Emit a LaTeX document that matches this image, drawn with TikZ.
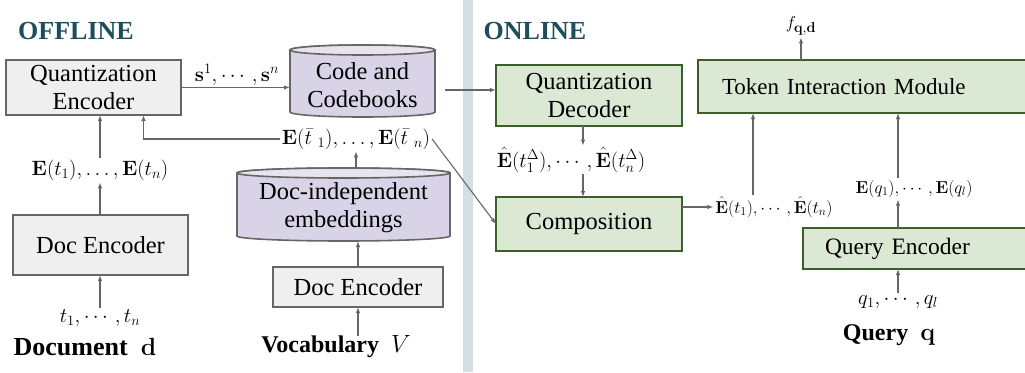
\documentclass[tikz,border=0pt]{standalone}
\usepackage{amsmath}
\usepackage{amssymb}
\usepackage[no-math]{fontspec}
\setmainfont{Liberation Serif}
\usepackage{xcolor}
\usetikzlibrary{
  arrows.meta,
  positioning,
  calc
}

\definecolor{boxgray}{HTML}{EFEFEF}
\definecolor{linegray}{HTML}{666666}
\definecolor{dbpurple}{HTML}{D9D3E8}
\definecolor{dbtop}{HTML}{E7E4EF}
\definecolor{onlgreen}{HTML}{DBE8D4}
\definecolor{onlborder}{HTML}{3C5E2B}
\definecolor{titleteal}{HTML}{1E4D5C}
\definecolor{barblue}{HTML}{D3E0E3}

% database drum drawn round an empty node
\newcommand{\dbcyl}[2]{%
  \draw[line width=1.6pt, draw=linegray, fill=dbpurple]
    let \p1=(#1.south west), \p2=(#1.north east), \n1={(\x2-\x1)/2} in
    (\x1,\y2-#2) -- (\x1,\y1+#2)
    arc[start angle=180, end angle=360, x radius=\n1, y radius=#2]
    -- (\x2,\y2-#2)
    arc[start angle=0, end angle=180, x radius=\n1, y radius=#2] -- cycle;
  \draw[line width=1.6pt, draw=linegray, fill=dbtop]
    let \p1=(#1.south west), \p2=(#1.north east), \n1={(\x2-\x1)/2} in
    (\x1+\n1,\y2-#2) ellipse[x radius=\n1, y radius=#2];
}

\begin{document}
\begin{tikzpicture}[x=1pt, y=-1pt,
    every node/.style = {inner sep=0pt, outer sep=0pt},
    boxtxt/.style = {align=center, font=\rmfamily\fontsize{24.5}{28}\selectfont},
    enc/.style = {boxtxt, draw=linegray, fill=boxgray, line width=1.6pt},
    onl/.style = {boxtxt, draw=onlborder, fill=onlgreen, line width=1.8pt},
    lbl/.style = {inner sep=2pt, font=\fontsize{#1}{#1}\selectfont},
    lbl/.default = 18,
    ttl/.style = {font=\fontsize{26}{30}\selectfont\bfseries, text=titleteal},
    captxt/.style = {font=\fontsize{#1}{28}\selectfont\bfseries},
    captxt/.default = 24,
    arr/.style = {draw=linegray, line width=1.1pt, -{Latex[length=6pt,width=4.5pt]}}]
  \useasboundingbox (0,0) rectangle (1025,372);
  \clip (0,0) rectangle (1025,372);
  \fill[barblue] (463,0) rectangle (473,372);

  \node[ttl] (offline) at (76,31) {OFFLINE};
  \node[ttl] (online) at (535,31) {ONLINE};

  % offline part
  \node[enc, minimum width=175pt, minimum height=55pt] (qenc) at (93.5,87.5) {Quantization\\Encoder};
  \node[minimum width=145pt, minimum height=72pt] (code) at (362.5,81) {};
  \dbcyl{code}{5pt}
  \node[boxtxt] (codetxt) at ([yshift=-4pt]code.center) {Code and\\Codebooks};
  \node[lbl=20.5] (slab) at (237,75) {$\mathbf{s}^1,\cdots,\mathbf{s}^n$};
  \node[lbl=20] (ebar) at (356,139) {$\mathbf{E}(\bar{t}\;{}_1),\ldots,\mathbf{E}(\bar{t}\;{}_n)$};
  \node[lbl=19.5] (elab) at (100,170) {$\mathbf{E}(t_1),\ldots,\mathbf{E}(t_n)$};
  \node[enc, minimum width=175pt, minimum height=60pt] (denc1) at (100.5,245) {Doc Encoder};
  \node[lbl=21] (tlab) at (100,318) {$t_1,\cdots,t_n$};
  \node[captxt=26] (doclab) at (85,347) {Document\ \ $\mathbf{d}$};

  \node[minimum width=213pt, minimum height=73pt] (indep) at (343.5,204.5) {};
  \dbcyl{indep}{5pt}
  \node[boxtxt] (indeptxt) at ([yshift=-3pt]indep.center) {Doc-independent\\embeddings};
  \node[enc, minimum width=170pt, minimum height=40pt] (denc2) at (358,287) {Doc Encoder};
  \node[captxt] (vlab) at (336,347) {Vocabulary\ \ $V$};

  % online part
  \node[onl, minimum width=186pt, minimum height=61pt] (qdec) at (589,95.5) {Quantization\\Decoder};
  \node[lbl=19.5] (dhlab) at (571,160) {$\hat{\mathbf{E}}(t_1^{\Delta}),\cdots,\hat{\mathbf{E}}(t_n^{\Delta})$};
  \node[onl, minimum width=186pt, minimum height=54pt] (comp) at (589,224) {Composition};
  \node[lbl=17.5] (ehlab) at (774,207) {$\hat{\mathbf{E}}(t_1),\cdots,\hat{\mathbf{E}}(t_n)$};
  \node[onl, anchor=west, minimum height=53pt, text width=300pt, align=left, inner xsep=24pt,
    font=\rmfamily\fontsize{23}{28}\selectfont] (tim) at (698,86.5) {Token Interaction Module};
  \node[lbl=19] (flab) at (801,26) {$f_{\mathbf{q},\mathbf{d}}$};
  \node[lbl] (eqlab) at (914,189) {$\mathbf{E}(q_1),\cdots,\mathbf{E}(q_l)$};
  \node[onl, anchor=west, minimum height=41pt, text width=300pt, align=left, inner xsep=22pt,
    font=\rmfamily\fontsize{23.5}{28}\selectfont] (qry) at (803,248.5) {Query Encoder};
  \node[lbl=21] (qlab) at (898,302) {$q_1,\cdots,q_l$};
  \node[captxt] (querylab) at (889,335) {Query\ \ $\mathbf{q}$};

  % connectors
  \draw[arr] (qenc.east) -- (qenc.east -| code.west);
  \draw[arr] ([shift={(10,9)}]code.east) coordinate (cc) -- (cc -| qdec.west);
  \draw[arr] (ebar.west) -| ([xshift=50pt]qenc.south);
  \draw[arr] (ebar.east) -- (comp.west);
  \draw[arr] (indep.north -| ebar.south) -- (ebar.south);
  \draw[arr] (denc1.north -| elab.south) -- (elab.south);
  \draw[arr] (elab.north) -- (elab.north |- qenc.south);
  \draw[arr] (tlab.north) -- (tlab.north |- denc1.south);
  \draw[arr] (denc2.north) -- (denc2.north |- indep.south);
  \draw[arr] (denc2.south |- vlab.north) -- (denc2.south);
  \draw[arr] ([xshift=-6pt]qdec.south) -- ([xshift=-6pt]qdec.south |- dhlab.north);
  \draw[arr] ([xshift=-6pt]qdec.south |- dhlab.south) -- ([xshift=-6pt]comp.north);
  \draw[arr] (comp.east |- ehlab.west) -- (ehlab.west);
  \draw[arr] ([xshift=-21pt]ehlab.north) -- ([xshift=-21pt]ehlab.north |- tim.south);
  \draw[arr] (tim.north -| flab.south) -- (flab.south);
  \draw[arr] (qlab.north) -- (qlab.north |- qry.south);
  \draw[arr] (qry.north -| qlab.north) -- (qlab.north |- eqlab.south);
  \draw[arr] (qlab.north |- eqlab.north) -- (qlab.north |- tim.south);
\end{tikzpicture}
\end{document}
